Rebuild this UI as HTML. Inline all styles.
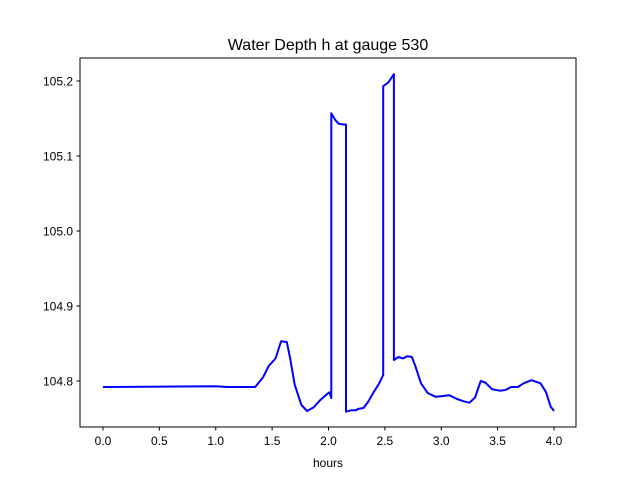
<!DOCTYPE html>
<html><head><meta charset="utf-8"><style>body{margin:0;background:#fff}svg{font-family:"Liberation Sans","DejaVu Sans",sans-serif}</style></head>
<body>
<svg id="chart" width="640" height="480">
<rect width="640" height="480" fill="#fff"/>
<text x="328" y="50" text-anchor="middle" font-size="16">Water Depth h at gauge 530</text>
<g id="plot"></g>
<rect x="80" y="58" width="496" height="369" fill="none" stroke="#000" stroke-width="1"/>
<text x="328" y="467" text-anchor="middle" font-size="12">hours</text>
</svg>
<script>
const times=[0.0,1.0,1.1,1.35,1.42,1.47,1.53,1.58,1.63,1.66,1.70,1.76,1.81,1.87,1.93,1.99,2.01,2.025,2.025,2.06,2.09,2.13,2.155,2.155,2.2,2.24,2.27,2.31,2.35,2.4,2.45,2.485,2.485,2.53,2.58,2.58,2.62,2.66,2.70,2.74,2.77,2.82,2.88,2.95,3.02,3.07,3.14,3.2,3.25,3.3,3.35,3.39,3.45,3.52,3.57,3.62,3.68,3.73,3.80,3.88,3.93,3.97,4.0];
const depths=[104.792,104.793,104.792,104.792,104.805,104.82,104.83,104.853,104.852,104.83,104.795,104.768,104.760,104.765,104.775,104.783,104.785,104.777,105.157,105.148,105.143,105.142,105.142,104.759,104.761,104.761,104.763,104.764,104.772,104.785,104.797,104.808,105.193,105.198,105.209,104.828,104.832,104.830,104.833,104.832,104.82,104.797,104.784,104.779,104.780,104.781,104.776,104.773,104.771,104.778,104.800,104.798,104.789,104.787,104.788,104.792,104.792,104.797,104.801,104.797,104.785,104.766,104.760];
const xTicks=[0.0,0.5,1.0,1.5,2.0,2.5,3.0,3.5,4.0];
const yTicks=[104.8,104.9,105.0,105.1,105.2];
const xs=v=>103+v*112.75;
const ys=v=>381-(v-104.8)*750;
const NS="http://www.w3.org/2000/svg";
const g=document.getElementById('plot');
function mk(t,a){const e=document.createElementNS(NS,t);for(const k in a)e.setAttribute(k,a[k]);g.appendChild(e);return e;}
xTicks.forEach(v=>{
  const l=mk('line',{x1:xs(v),x2:xs(v),y1:427,y2:430.5,stroke:'#000'});
  
  
  const t=mk('text',{x:xs(v),y:445,'text-anchor':'middle','font-size':12});
  t.textContent=v.toFixed(1);
  
  
});
yTicks.forEach(v=>{
  const l=mk('line',{x1:76.5,x2:80,y1:ys(v),y2:ys(v),stroke:'#000'});
  
  
  const t=mk('text',{x:73,y:ys(v)+4.5,'text-anchor':'end','font-size':12});
  t.textContent=v.toFixed(1);
  
  
});
const p=mk('polyline',{points:times.map((t,i)=>xs(t).toFixed(1)+','+ys(depths[i]).toFixed(1)).join(' '),fill:'none',stroke:'#0000ff','stroke-width':2,'stroke-linejoin':'round'});


</script>
</body></html>
